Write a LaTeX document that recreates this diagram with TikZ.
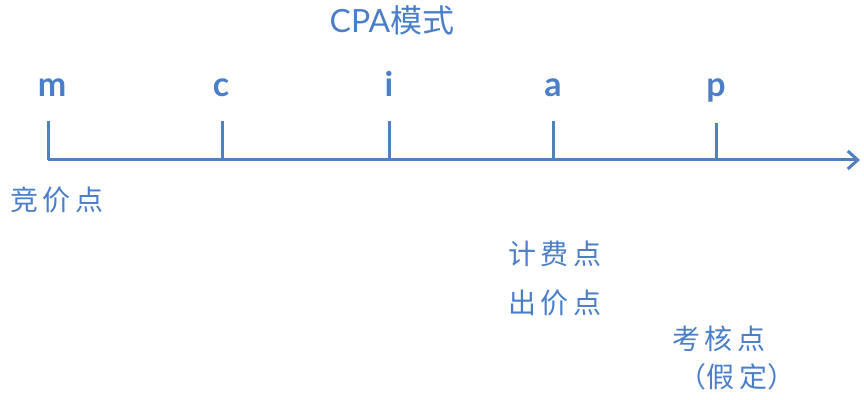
\documentclass[tikz,border=0pt]{standalone}
\usepackage{fontspec}
\setmainfont{Lato}
\newfontfamily\cjk{Noto Sans CJK SC}
\usepackage{xcolor}
\definecolor{axisBlue}{HTML}{4F81BD}
\definecolor{textBlue}{HTML}{4A7EC8}
\usetikzlibrary{arrows.meta}
\tikzset{
  axisline/.style={axisBlue, line width=1.5pt},
  tickletter/.style={textBlue, font=\fontsize{17}{20}\selectfont\bfseries, inner sep=0pt},
  cjklabel/.style={textBlue, font=\cjk\fontsize{14}{17}\selectfont, inner sep=0pt}
}

\begin{document}
\begin{tikzpicture}[x=0.5pt, y=-0.5pt]
  \useasboundingbox (0,0) rectangle (864,400);
  \node[textBlue, font=\fontsize{16}{19}\selectfont, inner sep=0pt] (title) at (392,20) {CPA{\cjk 模式}};
  \coordinate (start) at (48,160);
  \coordinate (end) at (860,160);
  \draw[axisline, -{Straight Barb[length=5pt, width=9pt]}] (start) -- (end);
  \coordinate (mB) at (48,160);   \coordinate (mT) at (48,121);
  \coordinate (cB) at (222,160);  \coordinate (cT) at (222,121);
  \coordinate (iB) at (389,160);  \coordinate (iT) at (389,121);
  \coordinate (aB) at (553,160);  \coordinate (aT) at (553,121);
  \coordinate (pB) at (716,160);  \coordinate (pT) at (716,123);
  \draw[axisline] (mB) -- (mT);
  \draw[axisline] (cB) -- (cT);
  \draw[axisline] (iB) -- (iT);
  \draw[axisline] (aB) -- (aT);
  \draw[axisline] (pB) -- (pT);
  \node[tickletter, anchor=base] (m) at (52,97) {m};
  \node[tickletter, anchor=base] (c) at (221,97) {c};
  \node[tickletter, anchor=base] (i) at (389,97) {i};
  \node[tickletter, anchor=base] (a) at (553,97) {a};
  \node[tickletter, anchor=base] (p) at (716,97) {p};
  \node[cjklabel] (bid) at (57,200) {竞\,价\,点};
  \node[cjklabel] (charge) at (555,254) {计\,费\,点};
  \node[cjklabel] (offer) at (555,303) {出\,价\,点};
  \node[cjklabel] (check) at (719,339) {考\,核\,点};
  \node[cjklabel] (assume) at (737,377) {（假\,定）};
\end{tikzpicture}
\end{document}
